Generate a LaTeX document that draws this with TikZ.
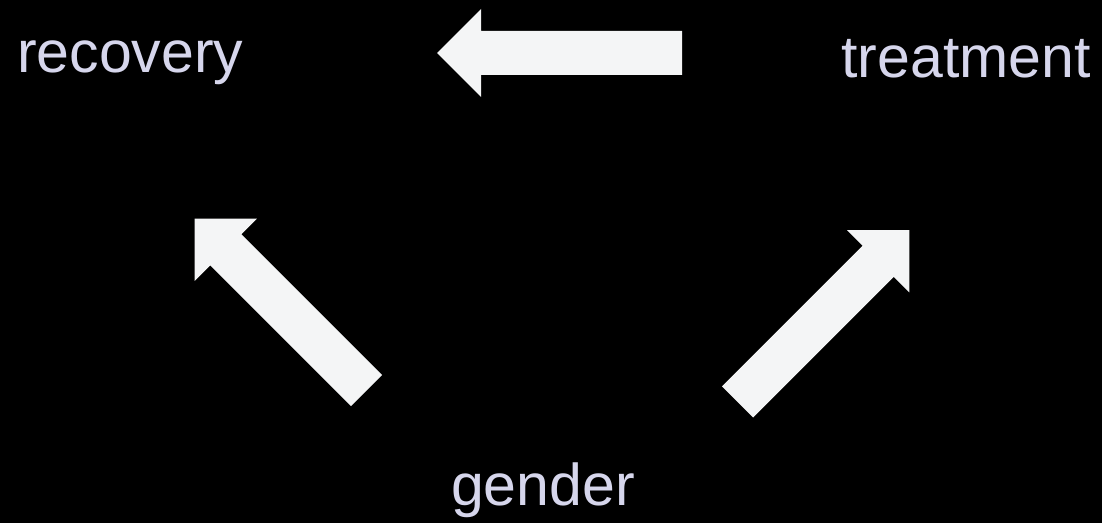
\documentclass[tikz,border=0pt]{standalone}
\usepackage{fontspec}
\setmainfont{Liberation Sans}
\begin{document}
\begin{tikzpicture}[x=1pt,y=1pt,
  lbl/.style={text=labelcol,inner sep=0pt,font=\fontsize{59}{70}\selectfont},
  blockarrow/.style={fill=arrowcol,draw=none}]
\definecolor{labelcol}{RGB}{214,214,236}
\definecolor{arrowcol}{RGB}{244,245,246}
\fill[black] (0,0) rectangle (1102,523);
\useasboundingbox (0,0) rectangle (1102,523);
\node[lbl,anchor=base west] (recovery) at (17,450) {recovery};
\node[lbl,anchor=base east] (treatment) at (1091,445) {treatment};
\node[lbl,anchor=base] (gender) at (543,18) {gender};
% block arrows: local coordinates, tail at origin, pointing along +x, length 245
\newcommand{\blockarr}[1]{%
  \fill[blockarrow] (0,-22) -- (#1-44,-22) -- (#1-44,-44) -- (#1,0) -- (#1-44,44) -- (#1-44,22) -- (0,22) -- cycle;}
\begin{scope}[shift={(682,470)},rotate=180]
  \blockarr{245}
\end{scope}
\begin{scope}[shift={(366.5,132.5)},rotate=135]
  \blockarr{243}
\end{scope}
\begin{scope}[shift={(737.5,121)},rotate=45]
  \blockarr{243}
\end{scope}
\end{tikzpicture}
\end{document}
